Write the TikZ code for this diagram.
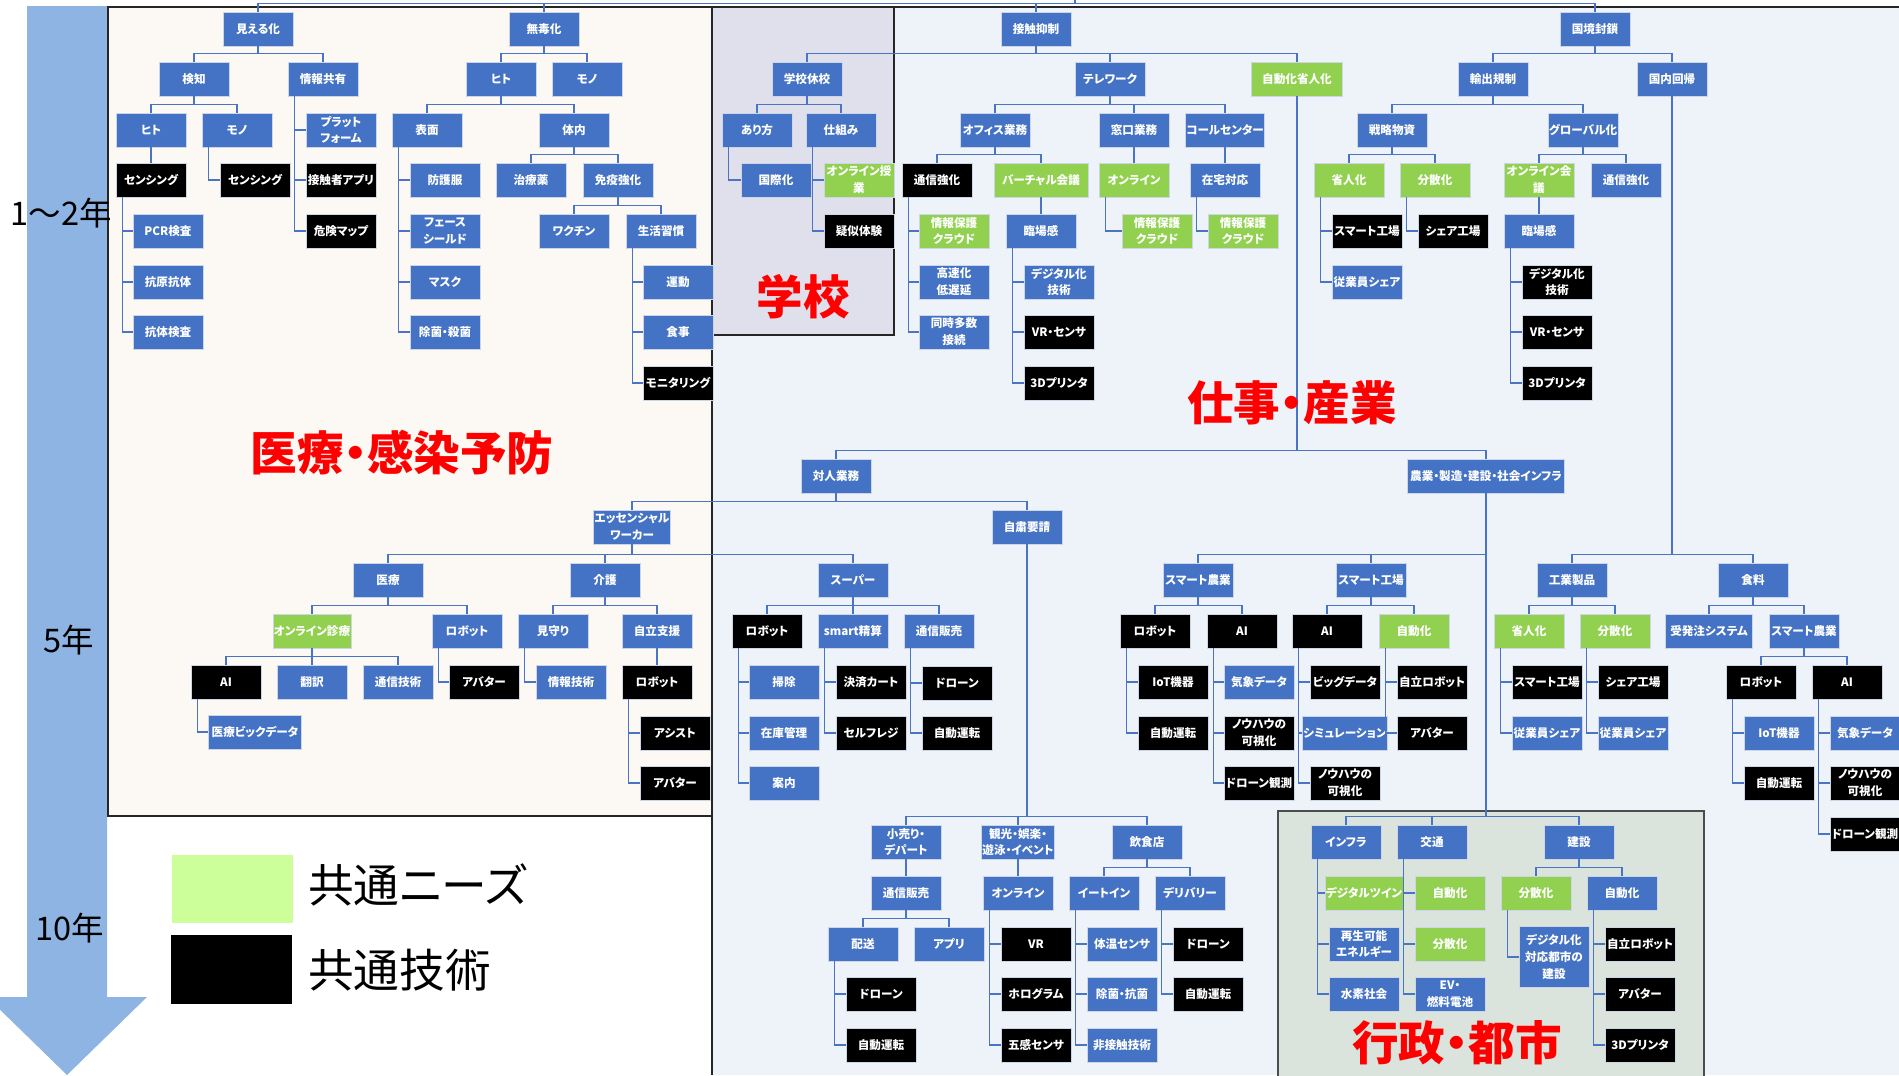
\documentclass[tikz,border=0pt]{standalone}
\usepackage{fontspec}
\setmainfont{Noto Sans CJK JP}[RawFeature={+palt}]
\usetikzlibrary{calc}

\definecolor{nodeblue}{RGB}{68,114,196}
\definecolor{nodegreen}{RGB}{146,208,80}
\definecolor{lineblue}{RGB}{74,116,196}
\definecolor{boxline}{RGB}{205,214,230}
\definecolor{arrowblue}{RGB}{141,180,226}
\definecolor{medbg}{RGB}{252,248,243}
\definecolor{schoolbg}{RGB}{223,224,236}
\definecolor{workbg}{RGB}{238,243,250}
\definecolor{govbg}{RGB}{219,227,221}
\definecolor{legendgreen}{RGB}{204,255,153}

\begin{document}
\begin{tikzpicture}[x=0.02cm, y=-0.02cm,
  bx/.style={draw=boxline, line width=0.4pt, minimum width=1.4cm, minimum height=0.68cm,
    inner xsep=0.5pt, inner ysep=0.5pt, text=white, align=center,
    font=\bfseries\fontsize{6.6}{9.6}\selectfont},
  nb/.style={bx, fill=nodeblue},
  ng/.style={bx, fill=nodegreen},
  nk/.style={bx, fill=black},
  ln/.style={draw=lineblue, line width=0.7pt},
  branch/.style={to path={|- ($(\tikztotarget.north)+(0,-8)$) -- (\tikztotarget.north)}},
  listed/.style={to path={($(\tikztostart.south west)+(7,0)$) |- (\tikztotarget.west)}},
  bigred/.style={text=red, font=\bfseries\fontsize{26.5}{31}\selectfont},
  yr/.style={font=\fontsize{18.5}{22}\selectfont},
  lg/.style={anchor=west, font=\fontsize{26}{30}\selectfont}]

\useasboundingbox (0,0) rectangle (1899,1075);

\fill[arrowblue] (27,6) -- (107,6) -- (107,997) -- (147,997) -- (67,1075) -- (-13,997) -- (27,997) -- cycle;
\fill[workbg] (712,7) rectangle (1899,1075);
\draw[black!85, line width=1pt] (712,1075) -- (712,7) -- (1899,7);
\draw[fill=medbg, draw=black!85, line width=1pt] (108,7) rectangle (712,816);
\draw[fill=schoolbg, draw=black!85, line width=1pt] (712,7) rectangle (894,335);
\draw[fill=govbg, draw=black!70, line width=1pt] (1278,811) rectangle (1704,1085);

\node[yr] (yr1) at (61,213) {1～2年};
\node[yr] (yr5) at (69,640) {5年};
\node[yr] (yr10) at (70,928) {10年};

\fill[legendgreen] (172,855) rectangle (293,923);
\fill[black] (171,935) rectangle (292,1004);
\node[lg] (lgneed) at (302,885) {共通ニーズ};
\node[lg] (lgtech) at (302,970) {共通技術};

\coordinate (top) at (1075,0);

\node[nb] (mieru) at (258,29) {見える化};
\node[nb] (kenchi) at (194,79) {検知};
\node[nb] (joho) at (323,79) {情報共有};
\node[nb] (hitoA) at (151,130) {ヒト};
\node[nb] (monoA) at (237,130) {モノ};
\node[nk] (senA) at (151,180) {センシング};
\node[nk] (senB) at (255,180) {センシング};
\node[nb] (pcr) at (168,231) {PCR検査};
\node[nb] (kogen) at (168,282) {抗原抗体};
\node[nb] (kotai) at (168,332) {抗体検査};
\node[nb] (plat) at (341,130) {プラット\\フォーム};
\node[nk] (app) at (341,180) {接触者アプリ};
\node[nk] (kiken) at (341,231) {危険マップ};

\node[nb] (mudoku) at (544,29) {無毒化};
\node[nb] (hitoB) at (501,79) {ヒト};
\node[nb] (monoB) at (587,79) {モノ};
\node[nb] (hyomen) at (427,130) {表面};
\node[nb] (tainai) at (574,130) {体内};
\node[nb] (bogo) at (445,180) {防護服};
\node[nb] (face) at (445,231) {フェース\\シールド};
\node[nb] (mask) at (445,282) {マスク};
\node[nb] (jokin) at (445,332) {除菌・殺菌};
\node[nb] (chiryo) at (531,180) {治療薬};
\node[nb] (meneki) at (618,180) {免疫強化};
\node[nb] (vaccine) at (574,231) {ワクチン};
\node[nb] (seikatsu) at (661,231) {生活習慣};
\node[nb] (undo) at (678,282) {運動};
\node[nb] (shokuji) at (678,332) {食事};
\node[nk] (monitor) at (678,383) {モニタリング};

\node[nb] (kyuko) at (807,79) {学校休校};
\node[nb] (arikata) at (757,130) {あり方};
\node[nb] (shikumi) at (841,130) {仕組み};
\node[nb] (kokusai) at (776,180) {国際化};
\node[ng] (onjugyo) at (859,180) {オンライン授\\業};
\node[nk] (giji) at (859,231) {疑似体験};

\node[nb] (sesshoku) at (1036,29) {接触抑制};
\node[nb] (tele) at (1110,79) {テレワーク};
\node[ng, minimum width=1.82cm] (jidoshojin) at (1297,79) {自動化省人化};
\node[nb] (office) at (995,130) {オフィス業務};
\node[nb] (madoguchi) at (1134,130) {窓口業務};
\node[nb] (call) at (1225,130) {コールセンター};
\node[nk] (tsushinA) at (937,180) {通信強化};
\node[ng, minimum width=1.88cm] (virtual) at (1041,180) {バーチャル会議};
\node[ng] (cloudA) at (954,231) {情報保護\\クラウド};
\node[nb] (kosoku) at (954,282) {高速化\\低遅延};
\node[nb] (doji) at (954,332) {同時多数\\接続};
\node[nb] (rinjoA) at (1041,231) {臨場感};
\node[nb] (digiA) at (1059,282) {デジタル化\\技術};
\node[nk] (vrA) at (1059,332) {VR・センサ};
\node[nk] (printA) at (1059,383) {3Dプリンタ};
\node[ng] (onlineA) at (1134,180) {オンライン};
\node[ng] (cloudB) at (1157,231) {情報保護\\クラウド};
\node[nb] (zaitaku) at (1225,180) {在宅対応};
\node[ng] (cloudC) at (1243,231) {情報保護\\クラウド};

\node[nb] (kokkyo) at (1595,29) {国境封鎖};
\node[nb] (yushutsu) at (1493,79) {輸出規制};
\node[nb] (kokunai) at (1672,79) {国内回帰};
\node[nb] (senryaku) at (1392,130) {戦略物資};
\node[nb] (global) at (1583,130) {グローバル化};
\node[ng] (shojinA) at (1349,180) {省人化};
\node[ng] (bunsanA) at (1435,180) {分散化};
\node[nk] (smfA) at (1367,231) {スマート工場};
\node[nb] (jugyoA) at (1367,282) {従業員シェア};
\node[nk] (shareA) at (1453,231) {シェア工場};
\node[ng] (onkaigi) at (1539,180) {オンライン会\\議};
\node[nb] (tsushinB) at (1626,180) {通信強化};
\node[nb] (rinjoB) at (1539,231) {臨場感};
\node[nk] (digiB) at (1557,282) {デジタル化\\技術};
\node[nk] (vrB) at (1557,332) {VR・センサ};
\node[nk] (printB) at (1557,383) {3Dプリンタ};

\node[nb] (kogyo) at (1572,580) {工業製品};
\node[nb] (shokuryo) at (1753,580) {食料};
\node[ng] (shojinB) at (1529,631) {省人化};
\node[ng] (bunsanB) at (1615,631) {分散化};
\node[nk] (smfB) at (1547,682) {スマート工場};
\node[nb] (jugyoB) at (1547,733) {従業員シェア};
\node[nk] (shareB) at (1633,682) {シェア工場};
\node[nb] (jugyoC) at (1633,733) {従業員シェア};
\node[nb, minimum width=1.74cm] (juhatchu) at (1709,631) {受発注システム};
\node[nb] (smagriB) at (1804,631) {スマート農業};
\node[nk] (robotF) at (1761,682) {ロボット};
\node[nk] (aiF) at (1847,682) {AI};
\node[nb] (iotF) at (1779,733) {IoT機器};
\node[nk] (autoF) at (1779,783) {自動運転};
\node[nb] (kishoF) at (1865,733) {気象データ};
\node[nk] (knowF) at (1865,783) {ノウハウの\\可視化};
\node[nk] (droneF) at (1865,834) {ドローン観測};

\node[nb] (taijin) at (836,476) {対人業務};
\node[nb, minimum width=3.14cm] (nogyo) at (1486,476) {農業・製造・建設・社会インフラ};
\node[nb] (essential) at (632,527) {エッセンシャル\\ワーカー};
\node[nb] (jishuku) at (1027,527) {自粛要請};
\node[nb] (iryo) at (388,580) {医療};
\node[nb] (kaigo) at (605,580) {介護};
\node[nb] (super) at (853,580) {スーパー};
\node[ng, minimum width=1.5cm] (shinryo) at (312,631) {オンライン診療};
\node[nb] (robotA) at (467,631) {ロボット};
\node[nk] (aiA) at (226,682) {AI};
\node[nb] (honyaku) at (312,682) {翻訳};
\node[nb] (tsushingi) at (398,682) {通信技術};
\node[nb, minimum width=1.86cm] (bigdata) at (255,732) {医療ビックデータ};
\node[nk] (avatarA) at (484,682) {アバター};
\node[nb] (mimamori) at (553,631) {見守り};
\node[nb] (jiritsu) at (657,631) {自立支援};
\node[nb] (johogi) at (571,682) {情報技術};
\node[nk] (robotB) at (657,682) {ロボット};
\node[nk] (assist) at (675,733) {アシスト};
\node[nk] (avatarB) at (675,783) {アバター};
\node[nk] (robotC) at (767,631) {ロボット};
\node[nb] (smart) at (853,631) {smart精算};
\node[nb] (tsuhanA) at (939,631) {通信販売};
\node[nb] (soji) at (784,682) {掃除};
\node[nb] (zaiko) at (784,733) {在庫管理};
\node[nb] (annai) at (784,783) {案内};
\node[nk] (kessai) at (871,682) {決済カート};
\node[nk] (self) at (871,733) {セルフレジ};
\node[nk] (droneA) at (957,683) {ドローン};
\node[nk] (autoA) at (957,733) {自動運転};

\node[nb] (kouri) at (906,842) {小売り・\\デパート};
\node[nb] (kanko) at (1018,842) {観光・娯楽・\\遊泳・イベント};
\node[nb] (inshoku) at (1147,842) {飲食店};
\node[nb] (tsuhanB) at (906,893) {通信販売};
\node[nb] (haiso) at (863,944) {配送};
\node[nb] (apuri) at (949,944) {アプリ};
\node[nk] (droneB) at (881,994) {ドローン};
\node[nk] (autoB) at (881,1045) {自動運転};
\node[nb] (onlineB) at (1018,893) {オンライン};
\node[nk] (vrC) at (1036,944) {VR};
\node[nk] (holo) at (1036,994) {ホログラム};
\node[nk] (gokan) at (1036,1045) {五感センサ};
\node[nb] (eatin) at (1104,893) {イートイン};
\node[nb] (delivery) at (1190,893) {デリバリー};
\node[nb] (taion) at (1122,944) {体温センサ};
\node[nb] (kokin) at (1122,994) {除菌・抗菌};
\node[nb] (hisesshoku) at (1122,1045) {非接触技術};
\node[nk] (droneC) at (1208,944) {ドローン};
\node[nk] (autoC) at (1208,994) {自動運転};

\node[nb] (smagriA) at (1198,580) {スマート農業};
\node[nb] (smfac) at (1371,580) {スマート工場};
\node[nk] (robotD) at (1155,631) {ロボット};
\node[nk] (aiD) at (1242,631) {AI};
\node[nk] (iotD) at (1173,682) {IoT機器};
\node[nk] (autoD) at (1173,733) {自動運転};
\node[nb] (kishoD) at (1259,682) {気象データ};
\node[nk] (knowD) at (1259,733) {ノウハウの\\可視化};
\node[nk] (droneD) at (1259,783) {ドローン観測};
\node[nk] (aiE) at (1327,631) {AI};
\node[ng] (jidoE) at (1414,631) {自動化};
\node[nk] (bigE) at (1345,682) {ビッグデータ};
\node[nb] (simE) at (1345,733) {シミュレーション};
\node[nk] (knowE) at (1345,783) {ノウハウの\\可視化};
\node[nk] (robotE) at (1432,682) {自立ロボット};
\node[nk] (avatarE) at (1432,733) {アバター};

\node[nb] (infra) at (1346,842) {インフラ};
\node[nb] (kotsu) at (1432,842) {交通};
\node[nb] (kensetsu) at (1579,842) {建設};
\node[ng] (twin) at (1364,893) {デジタルツイン};
\node[nb] (saisei) at (1364,944) {再生可能\\エネルギー};
\node[nb] (suiso) at (1364,994) {水素社会};
\node[ng] (jidoG) at (1450,893) {自動化};
\node[ng] (bunsanG) at (1450,944) {分散化};
\node[nb] (ev) at (1450,994) {EV・\\燃料電池};
\node[ng] (bunsanH) at (1536,893) {分散化};
\node[nb] (jidoH) at (1622,893) {自動化};
\node[nb, minimum height=1.22cm] (toshi) at (1554,957) {デジタル化\\対応都市の\\建設};
\node[nk] (robotH) at (1640,944) {自立ロボット};
\node[nk] (avatarH) at (1640,994) {アバター};
\node[nk] (printH) at (1640,1045) {3Dプリンタ};

\path[ln] (top) edge[branch] (mieru) edge[branch] (mudoku) edge[branch] (sesshoku) edge[branch] (kokkyo);
\path[ln] (mieru) edge[branch] (kenchi) edge[branch] (joho);
\path[ln] (kenchi) edge[branch] (hitoA) edge[branch] (monoA);
\path[ln] (hitoA) edge[branch] (senA);
\path[ln] (mudoku) edge[branch] (hitoB) edge[branch] (monoB);
\path[ln] (hitoB) edge[branch] (hyomen) edge[branch] (tainai);
\path[ln] (tainai) edge[branch] (chiryo) edge[branch] (meneki);
\path[ln] (meneki) edge[branch] (vaccine) edge[branch] (seikatsu);
\path[ln] (sesshoku) edge[branch] (kyuko) edge[branch] (tele) edge[branch] (jidoshojin);
\path[ln] (kyuko) edge[branch] (arikata) edge[branch] (shikumi);
\path[ln] (tele) edge[branch] (office) edge[branch] (madoguchi) edge[branch] (call);
\path[ln] (office) edge[branch] (tsushinA) edge[branch] (virtual);
\path[ln] (virtual) edge[branch] (rinjoA);
\path[ln] (madoguchi) edge[branch] (onlineA);
\path[ln] (call) edge[branch] (zaitaku);
\path[ln] (jidoshojin) edge[branch] (taijin) edge[branch] (nogyo);
\path[ln] (kokkyo) edge[branch] (yushutsu) edge[branch] (kokunai);
\path[ln] (yushutsu) edge[branch] (senryaku) edge[branch] (global);
\path[ln] (senryaku) edge[branch] (shojinA) edge[branch] (bunsanA);
\path[ln] (global) edge[branch] (onkaigi) edge[branch] (tsushinB);
\path[ln] (onkaigi) edge[branch] (rinjoB);
\path[ln] (kokunai) edge[branch] (kogyo) edge[branch] (shokuryo);
\path[ln] (kogyo) edge[branch] (shojinB) edge[branch] (bunsanB);
\path[ln] (shokuryo) edge[branch] (juhatchu) edge[branch] (smagriB);
\path[ln] (smagriB) edge[branch] (robotF) edge[branch] (aiF);
\path[ln] (taijin) edge[branch] (essential) edge[branch] (jishuku);
\path[ln] (essential) edge[branch] (iryo) edge[branch] (kaigo) edge[branch] (super);
\path[ln] (iryo) edge[branch] (shinryo) edge[branch] (robotA);
\path[ln] (shinryo) edge[branch] (aiA) edge[branch] (honyaku) edge[branch] (tsushingi);
\path[ln] (kaigo) edge[branch] (mimamori) edge[branch] (jiritsu);
\path[ln] (jiritsu) edge[branch] (robotB);
\path[ln] (super) edge[branch] (robotC) edge[branch] (smart) edge[branch] (tsuhanA);
\path[ln] (jishuku) edge[branch] (kouri) edge[branch] (kanko) edge[branch] (inshoku);
\path[ln] (kouri) edge[branch] (tsuhanB);
\path[ln] (tsuhanB) edge[branch] (haiso) edge[branch] (apuri);
\path[ln] (kanko) edge[branch] (onlineB);
\path[ln] (inshoku) edge[branch] (eatin) edge[branch] (delivery);
\path[ln] (nogyo) edge[branch] (smagriA) edge[branch] (smfac) edge[branch] (infra) edge[branch] (kotsu) edge[branch] (kensetsu);
\path[ln] (smagriA) edge[branch] (robotD) edge[branch] (aiD);
\path[ln] (smfac) edge[branch] (aiE) edge[branch] (jidoE);
\path[ln] (kensetsu) edge[branch] (bunsanH) edge[branch] (jidoH);

\path[ln] (senA) edge[listed] (pcr) edge[listed] (kogen) edge[listed] (kotai);
\path[ln] (monoA) edge[listed] (senB);
\path[ln] (joho) edge[listed] (plat) edge[listed] (app) edge[listed] (kiken);
\path[ln] (hyomen) edge[listed] (bogo) edge[listed] (face) edge[listed] (mask) edge[listed] (jokin);
\path[ln] (seikatsu) edge[listed] (undo) edge[listed] (shokuji) edge[listed] (monitor);
\path[ln] (arikata) edge[listed] (kokusai);
\path[ln] (shikumi) edge[listed] (onjugyo) edge[listed] (giji);
\path[ln] (tsushinA) edge[listed] (cloudA) edge[listed] (kosoku) edge[listed] (doji);
\path[ln] (rinjoA) edge[listed] (digiA) edge[listed] (vrA) edge[listed] (printA);
\path[ln] (onlineA) edge[listed] (cloudB);
\path[ln] (zaitaku) edge[listed] (cloudC);
\path[ln] (shojinA) edge[listed] (smfA) edge[listed] (jugyoA);
\path[ln] (bunsanA) edge[listed] (shareA);
\path[ln] (rinjoB) edge[listed] (digiB) edge[listed] (vrB) edge[listed] (printB);
\path[ln] (shojinB) edge[listed] (smfB) edge[listed] (jugyoB);
\path[ln] (bunsanB) edge[listed] (shareB) edge[listed] (jugyoC);
\path[ln] (robotF) edge[listed] (iotF) edge[listed] (autoF);
\path[ln] (aiF) edge[listed] (kishoF) edge[listed] (knowF) edge[listed] (droneF);
\path[ln] (aiA) edge[listed] (bigdata);
\path[ln] (robotA) edge[listed] (avatarA);
\path[ln] (mimamori) edge[listed] (johogi);
\path[ln] (robotB) edge[listed] (assist) edge[listed] (avatarB);
\path[ln] (robotC) edge[listed] (soji) edge[listed] (zaiko) edge[listed] (annai);
\path[ln] (smart) edge[listed] (kessai) edge[listed] (self);
\path[ln] (tsuhanA) edge[listed] (droneA) edge[listed] (autoA);
\path[ln] (haiso) edge[listed] (droneB) edge[listed] (autoB);
\path[ln] (onlineB) edge[listed] (vrC) edge[listed] (holo) edge[listed] (gokan);
\path[ln] (eatin) edge[listed] (taion) edge[listed] (kokin) edge[listed] (hisesshoku);
\path[ln] (delivery) edge[listed] (droneC) edge[listed] (autoC);
\path[ln] (robotD) edge[listed] (iotD) edge[listed] (autoD);
\path[ln] (aiD) edge[listed] (kishoD) edge[listed] (knowD) edge[listed] (droneD);
\path[ln] (aiE) edge[listed] (bigE) edge[listed] (simE) edge[listed] (knowE);
\path[ln] (jidoE) edge[listed] (robotE) edge[listed] (avatarE);
\path[ln] (infra) edge[listed] (twin) edge[listed] (saisei) edge[listed] (suiso);
\path[ln] (kotsu) edge[listed] (jidoG) edge[listed] (bunsanG) edge[listed] (ev);
\path[ln] (bunsanH) edge[listed] (toshi);
\path[ln] (jidoH) edge[listed] (robotH) edge[listed] (avatarH) edge[listed] (printH);

\node[bigred] (lbmed) at (402,453) {医療・感染予防};
\node[bigred] (lbschool) at (803,297) {学校};
\node[bigred] (lbwork) at (1292,403) {仕事・産業};
\node[bigred] (lbgov) at (1457,1043) {行政・都市};
\end{tikzpicture}
\end{document}
